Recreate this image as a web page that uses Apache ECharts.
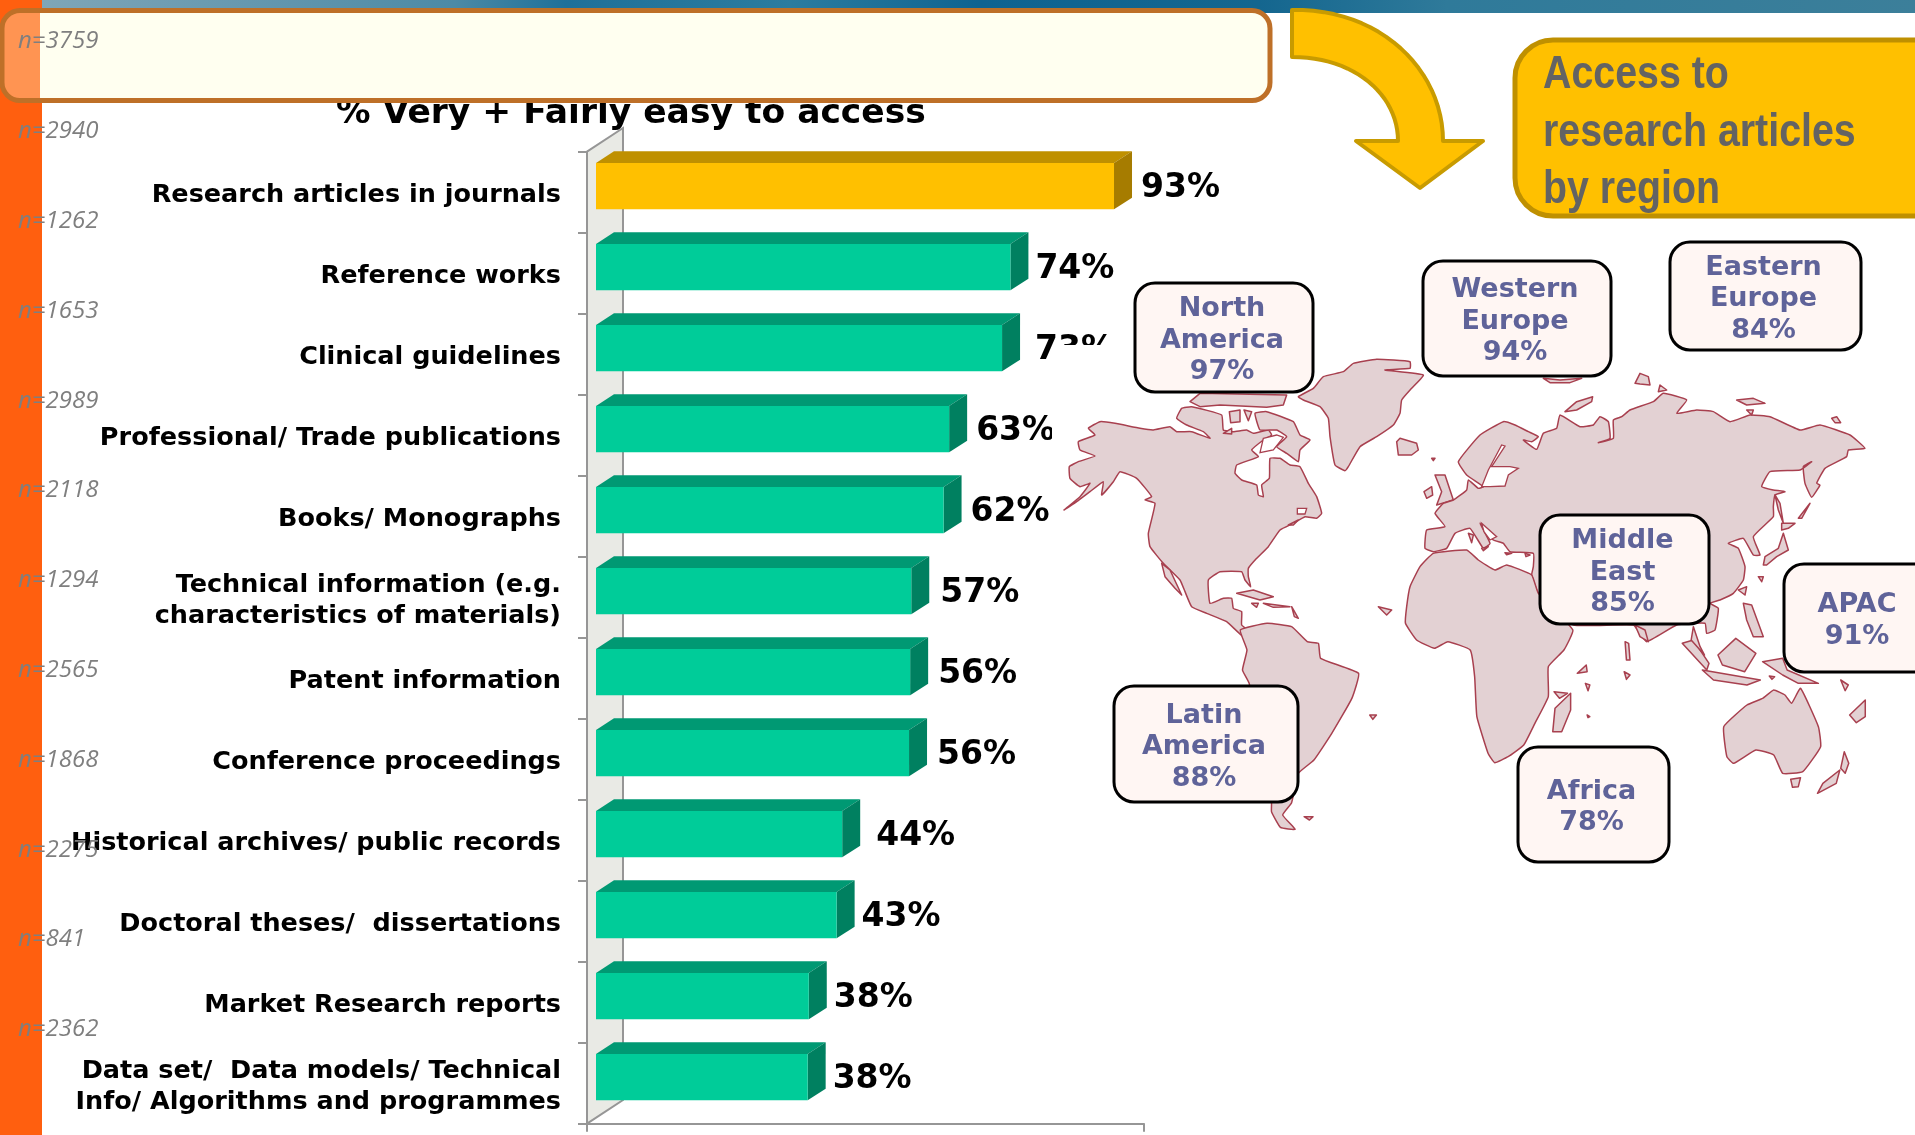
<!DOCTYPE html>
<html>
<head>
<meta charset="utf-8">
<style>html,body{margin:0;padding:0;background:#fff}#c{width:1915px;height:1135px}</style>
<script src="https://cdn.jsdelivr.net/npm/echarts@6/dist/echarts.min.js"></script>
</head>
<body>
<div id="c"></div>
<script>
const categories = ['Research articles in journals','Reference works','Clinical guidelines','Professional/ Trade publications','Books/ Monographs','Technical information (e.g.\ncharacteristics of materials)','Patent information','Conference proceedings','Historical archives/ public records','Doctoral theses/  dissertations','Market Research reports','Data set/  Data models/ Technical\nInfo/ Algorithms and programmes'];
const values = [93,74.4,72.9,63.4,62.4,56.6,56.4,56.2,44.2,43.2,38.2,38];
const sampleSizes = ['n=3759','n=2940','n=1262','n=1653','n=2989','n=2118','n=1294','n=2565','n=1868','n=2275','n=841','n=2362'];
const regionNames = ['North\nAmerica','Western\nEurope','Eastern\nEurope','Middle\nEast','APAC','Latin\nAmerica','Africa'];
const regionValues = [97,94,84,85,91,88,78];
const xTicks = [0,100];

const labelGaps = [9,7,15,9,9,11,10,10,16,7,7,7];
const regionBoxes = [[1135,283,178,109],[1423,261,188,115],[1670,242,191,108],[1540,515,169,109],[1784,564,150,108],[1114,686,184,116],[1518,747,151,115]];
const C = {green:'#00CC99',greenTop:'#009973',greenSide:'#008060',gold:'#FFC000',goldTop:'#BF9000',goldSide:'#A67C00',axis:'#969696',wall:'#E9EAE5',land:'#E3D1D3',coast:'#A8404F',region:'#5F6399'};

/* decorative world-map outline, traced over three reference crops */
const cropA = pts => pts.map(p => [1060 + p[0] / 3, 350 + p[1] / 3]);
const cropB = pts => pts.map(p => [1400 + p[0] / 3, 360 + p[1] / 3]);
const cropC = pts => pts.map(p => [1180 + p[0] / 2.24, 620 + p[1] / 3]);
const landOutlines = [
 // North America
 cropA([[12,480],[60,440],[90,400],[60,410],[30,385],[28,350],[55,335],[105,318],[60,300],[55,275],[105,255],[85,235],[120,215],[165,220],[240,235],[280,240],[330,230],[350,245],[395,245],[450,265],[430,245],[380,225],[350,205],[365,175],[395,170],[485,195],[490,240],[520,245],[560,240],[580,250],[625,240],[635,255],[610,270],[575,300],[595,320],[530,345],[525,370],[545,390],[590,405],[595,435],[610,440],[605,405],[628,385],[630,325],[660,325],[690,345],[720,350],[745,400],[770,440],[785,490],[770,505],[735,500],[700,520],[660,540],[625,590],[590,625],[565,655],[565,680],[572,710],[555,690],[545,665],[480,665],[445,690],[450,760],[490,745],[515,745],[520,775],[545,785],[545,825],[575,850],[550,860],[500,815],[440,790],[395,770],[375,725],[360,690],[310,640],[270,590],[265,550],[285,460],[255,450],[275,440],[230,385],[180,365],[160,395],[125,435],[130,395],[90,425],[50,455]]),
 cropA([[585,190],[620,185],[700,215],[720,255],[750,270],[720,300],[715,335],[680,310],[650,290],[680,260],[650,240],[600,240]]),
 cropA([[390,155],[420,130],[680,135],[670,165],[620,172],[480,165],[420,170]]),
 cropA([[508,185],[540,180],[540,215],[512,218]]),
 cropA([[552,180],[575,185],[565,212]]),
 cropA([[490,250],[515,235],[515,252]]),
 cropA([[305,640],[330,660],[365,735],[345,715],[315,680]]),
 cropA([[530,730],[580,720],[640,740],[600,750]]),
 cropA([[575,760],[595,760],[590,772]]),
 cropA([[610,760],[690,770],[640,772]]),
 cropA([[695,770],[715,805],[703,800]]),
 cropA([[955,770],[995,780],[980,795]]),
 cropA([[685,525],[715,510],[700,525]]),
 // Greenland, Iceland
 cropA([[715,140],[760,115],[790,80],[850,65],[880,40],[950,28],[1050,35],[1050,55],[975,60],[1090,75],[1055,115],[1025,150],[1020,190],[1000,225],[950,260],[900,290],[865,350],[855,362],[825,345],[810,260],[805,205],[780,170],[730,150]]),
 cropA([[1010,275],[1020,265],[1070,280],[1075,300],[1055,315],[1015,315]]),
 // British Isles
 cropB([[105,345],[135,345],[160,420],[110,435],[125,395]]),
 cropB([[72,395],[95,380],[98,405],[80,415]]),
 cropB([[95,295],[105,295],[100,302]]),
 // Eurasia
 cropB([[75,565],[80,510],[135,500],[105,460],[130,430],[160,420],[200,390],[205,360],[235,385],[250,380],[200,345],[175,305],[240,225],[310,185],[345,195],[385,215],[415,230],[395,245],[370,240],[410,268],[430,220],[470,205],[480,165],[540,200],[580,195],[600,170],[625,185],[630,235],[595,248],[640,235],[640,180],[665,170],[690,150],[760,125],[790,100],[860,120],[830,160],[890,150],[940,155],[990,185],[1050,165],[1110,170],[1200,210],[1260,195],[1350,225],[1395,265],[1345,270],[1340,290],[1275,325],[1250,370],[1260,375],[1235,412],[1215,370],[1210,320],[1235,305],[1200,330],[1110,335],[1085,380],[1120,390],[1155,395],[1125,405],[1120,440],[1120,470],[1060,530],[1080,585],[1060,585],[1030,535],[985,550],[1015,565],[1035,620],[1030,660],[1000,700],[960,720],[930,730],[955,745],[945,810],[920,820],[915,790],[830,795],[740,845],[700,795],[520,795],[415,700],[395,645],[400,620],[400,580],[330,575],[310,550],[280,540],[240,490],[270,550],[250,565],[210,505],[165,520],[140,565],[100,575]]),
 // Africa
 [...cropB([[100,580],[200,570],[235,600],[285,630],[320,615],[395,645],[415,700]]),...cropC([[880,30],[860,90],[825,140],[825,230],[795,310],[770,375],[735,410],[705,428],[690,400],[665,290],[660,170],[650,90],[600,65],[570,85],[530,60],[505,10]]),...cropB([[20,740],[30,680],[60,620]])],
 // South America
 cropC([[135,30],[195,10],[250,20],[285,65],[310,70],[315,115],[400,160],[385,235],[340,340],[300,420],[265,460],[250,548],[230,585],[258,628],[225,622],[205,575],[205,548],[155,190],[140,150],[150,90]]),
 // Oceania and islands
 cropC([[1218,320],[1270,255],[1305,235],[1330,210],[1355,225],[1370,250],[1390,205],[1430,320],[1435,380],[1395,455],[1350,460],[1330,405],[1290,390],[1240,430],[1225,410]]),
 cropC([[1368,478],[1390,473],[1385,500],[1372,502]]),
 cropC([[1428,520],[1440,490],[1478,450],[1470,490]]),
 cropC([[1480,445],[1488,395],[1498,430],[1490,460]]),
 cropC([[835,335],[840,265],[875,220],[875,270],[855,335]]),
 cropC([[838,215],[868,220],[850,235]]),
 cropC([[1305,125],[1350,115],[1360,150],[1430,190],[1385,190],[1350,165]]),
 cropC([[1205,105],[1245,55],[1290,100],[1265,155],[1215,135]]),
 cropC([[1125,70],[1150,60],[1185,130],[1180,150]]),
 cropC([[1150,20],[1165,80],[1175,105],[1145,60]]),
 cropC([[1170,150],[1300,180],[1270,195],[1195,180]]),
 cropB([[1030,730],[1055,735],[1090,830],[1060,830],[1040,780]]),
 cropB([[705,795],[735,810],[745,845],[720,830]]),
 cropC([[997,65],[1005,70],[1008,120],[1000,120]]),
 cropC([[995,155],[1008,165],[1000,178]]),
 cropC([[890,160],[910,135],[912,155]]),
 cropC([[908,190],[918,195],[914,212]]),
 cropC([[912,285],[918,290],[914,293]]),
 cropC([[425,285],[440,285],[432,298]]),
 cropC([[278,590],[298,590],[290,600]]),
 cropC([[1500,285],[1535,240],[1535,290],[1515,308]]),
 cropC([[1480,180],[1497,195],[1490,212]]),
 cropC([[1320,168],[1332,170],[1326,178]]),
 cropB([[495,155],[530,125],[578,110],[575,125],[530,150]]),
 cropB([[430,55],[480,60],[545,55],[510,68],[450,68]]),
 cropB([[705,70],[720,40],[745,50],[750,75],[720,72]]),
 cropB([[780,75],[800,90],[775,95]]),
 cropB([[1010,120],[1060,115],[1095,130],[1040,135]]),
 cropB([[1040,150],[1060,150],[1055,165]]),
 cropB([[1295,175],[1310,170],[1322,188],[1305,188]]),
 cropB([[1090,615],[1095,590],[1135,565],[1150,520],[1165,570],[1130,590],[1100,615]]),
 cropB([[1145,490],[1185,490],[1165,505],[1145,510]]),
 cropB([[1125,405],[1140,430],[1150,490],[1135,450]]),
 cropB([[1195,475],[1230,430],[1205,475]]),
 cropB([[1075,650],[1090,650],[1085,665]]),
 cropB([[1015,690],[1040,680],[1035,705]]),
 cropB([[205,520],[220,525],[215,548]]),
 cropB([[245,565],[265,560],[250,572]]),
 cropB([[315,578],[335,580],[320,584]]),
 cropB([[375,580],[390,585],[378,590]])
];
const seaOutlines = [
 cropB([[245,380],[265,330],[305,255],[315,258],[275,320],[330,320],[355,325],[325,345],[315,378],[270,380]]),
 cropB([[245,490],[290,530],[270,540],[252,515]]),
 cropA([[712,475],[740,475],[735,492],[712,492]]),
 cropA([[610,265],[650,255],[670,262],[640,300],[600,308]])
];
const cubic = (a,b,c,d) => {
  const pts = [];
  for (let k = 0; k <= 24; k++) {
    const t = k / 24, u = 1 - t;
    pts.push([u*u*u*a[0]+3*u*u*t*b[0]+3*u*t*t*c[0]+t*t*t*d[0], u*u*u*a[1]+3*u*u*t*b[1]+3*u*t*t*c[1]+t*t*t*d[1]]);
  }
  return pts;
};

const graphics = [];
const add = (e, z) => { e.z = z; e.silent = true; graphics.push(e); };
// page furniture
add({type:'rect',shape:{x:0,y:0,width:42,height:1135},style:{fill:'#FF5F0F'}},0);
add({type:'rect',shape:{x:42,y:0,width:1873,height:13},style:{fill:{type:'linear',x:0,y:0,x2:1,y2:0,colorStops:[{offset:0,color:'#7FA6B8'},{offset:.22,color:'#4C8AA6'},{offset:.28,color:'#1F7099'},{offset:.4,color:'#2B7C9F'},{offset:.5,color:'#0E6391'},{offset:.65,color:'#14668F'},{offset:.75,color:'#2F7A9A'},{offset:1,color:'#3C7F9A'}]}}},1);
// chart wall
add({type:'polygon',shape:{points:[[587,151.7],[623,128],[623,1100],[587,1123.7]]},style:{fill:C.wall}},1);
add({type:'polyline',shape:{points:[[587,151.7],[623,128],[623,1100],[587,1123.7]]},style:{fill:'none',stroke:C.axis,lineWidth:2}},1);
// white panel of the map picture
add({type:'rect',shape:{x:1052,y:345,width:863,height:765},style:{fill:'#fff'}},20);
landOutlines.forEach(o => add({type:'polygon',shape:{points:o,smooth:o.length>8?0.12:0},style:{fill:C.land,stroke:C.coast,lineWidth:1.5,lineJoin:'round'}},21));
seaOutlines.forEach(o => add({type:'polygon',shape:{points:o},style:{fill:'#fff',stroke:C.coast,lineWidth:1.3}},22));
// region call-outs
regionNames.forEach((name,i) => {
  const b = regionBoxes[i];
  add({type:'rect',shape:{x:b[0],y:b[1],width:b[2],height:b[3],r:20},style:{fill:'#FFF6F3',stroke:'#000',lineWidth:3}},23);
  add({type:'text',x:b[0]+b[2]/2-2,y:b[1]+b[3]/2+3,style:{text:name+'\n'+regionValues[i]+'%',fill:C.region,font:'bold 27px "DejaVu Sans"',lineHeight:31.5,align:'center',verticalAlign:'middle'}},24);
});
// cream banner
add({type:'rect',shape:{x:2,y:10.5,width:1268,height:90,r:18},style:{fill:{type:'linear',x:0,y:0,x2:1,y2:0,colorStops:[{offset:0,color:'#FF9452'},{offset:.0315,color:'#FF9452'},{offset:.0316,color:'#FFFFF0'},{offset:1,color:'#FFFFF0'}]},stroke:'#BE7028',lineWidth:5}},30);
// arrow
add({type:'polygon',shape:{points:[
  ...cubic([1292,10],[1380,8],[1443,70],[1443,141]),
  [1483,141],[1420,188],[1356,141],[1398,141],
  ...cubic([1398,141],[1398,95],[1355,57],[1292,57])
]},style:{fill:'#FFC000',stroke:'#C89B00',lineWidth:4,lineJoin:'round'}},31);
// callout
add({type:'rect',shape:{x:1515,y:40,width:460,height:176,r:38},style:{fill:'#FFC000',stroke:'#BF9000',lineWidth:5}},31);
['Access to','research articles','by region'].forEach((t,i)=>add({type:'text',x:1543,y:75.5+i*57.5,scaleX:.855,style:{text:t,fill:'#636363',font:'bold 46px "Liberation Sans"',verticalAlign:'middle',align:'left'}},32));
// sample sizes
sampleSizes.forEach((t,i)=>add({type:'text',x:18,y:41.5+i*89.8,style:{text:t,fill:'#7F7F7F',font:'italic 24px "Open Sans"',verticalAlign:'middle',align:'left'}},40));

function renderBar(params, api) {
  const i = api.value(1), v = api.value(0);
  const c = api.coord([v, i]), o = api.coord([0, i]);
  const band = api.size([0, 1])[1];
  const h = band * 0.572, dx = 18, dy = 11.7;
  const x0 = o[0] + 9, x1 = c[0] + 9, y0 = c[1] - 6 - h / 2, y1 = y0 + h;
  const gold = i === 0;
  return {type:'group',children:[
    {type:'polygon',shape:{points:[[x0,y0],[x0+dx,y0-dy],[x1+dx,y0-dy],[x1,y0]]},style:{fill:gold?C.goldTop:C.greenTop}},
    {type:'polygon',shape:{points:[[x1,y0],[x1+dx,y0-dy],[x1+dx,y1-dy],[x1,y1]]},style:{fill:gold?C.goldSide:C.greenSide}},
    {type:'rect',shape:{x:x0,y:y0,width:x1-x0,height:h},style:{fill:gold?C.gold:C.green}},
    {type:'text',x:x1+dx+labelGaps[i],y:c[1]-3.5,style:{text:Math.round(v)+'%',fill:'#000',font:'bold 33px "DejaVu Sans"',verticalAlign:'middle',align:'left'}}
  ]};
}

const chart = echarts.init(document.getElementById('c'), null, {renderer:'canvas'});
chart.setOption({
  animation:false,
  backgroundColor:'#fff',
  title:{text:'% Very + Fairly easy to access',left:336,top:96,z:6,padding:0,textStyle:{fontFamily:'DejaVu Sans',fontWeight:'bold',fontSize:34.5,color:'#000',lineHeight:36}},
  grid:{left:587,top:151.7,width:557,height:972},
  xAxis:{type:'value',min:xTicks[0],max:xTicks[1],interval:100,z:5,axisLine:{show:true,lineStyle:{color:C.axis,width:2}},axisTick:{show:true,length:8,lineStyle:{color:C.axis,width:2}},axisLabel:{show:false},splitLine:{show:false}},
  yAxis:{type:'category',inverse:true,data:categories,z:5,axisLine:{show:true,lineStyle:{color:C.axis,width:2}},axisTick:{show:true,length:9,alignWithLabel:false,lineStyle:{color:C.axis,width:2}},axisLabel:{margin:26,align:'right',
    formatter:v=>'{s| }\n'+v.split('\n').map(l=>'{t|'+l+'}').join('\n'),
    rich:{s:{height:7,lineHeight:7,fontSize:4},t:{color:'#000',fontFamily:'DejaVu Sans',fontWeight:'bold',fontSize:25.5,lineHeight:31,align:'right'}}}},
  series:[{type:'custom',z:6,renderItem:renderBar,encode:{x:0,y:1},data:values.map((v,i)=>[v,i]),clip:false}],
  graphic:{elements:graphics}
});
</script>
</body>
</html>
